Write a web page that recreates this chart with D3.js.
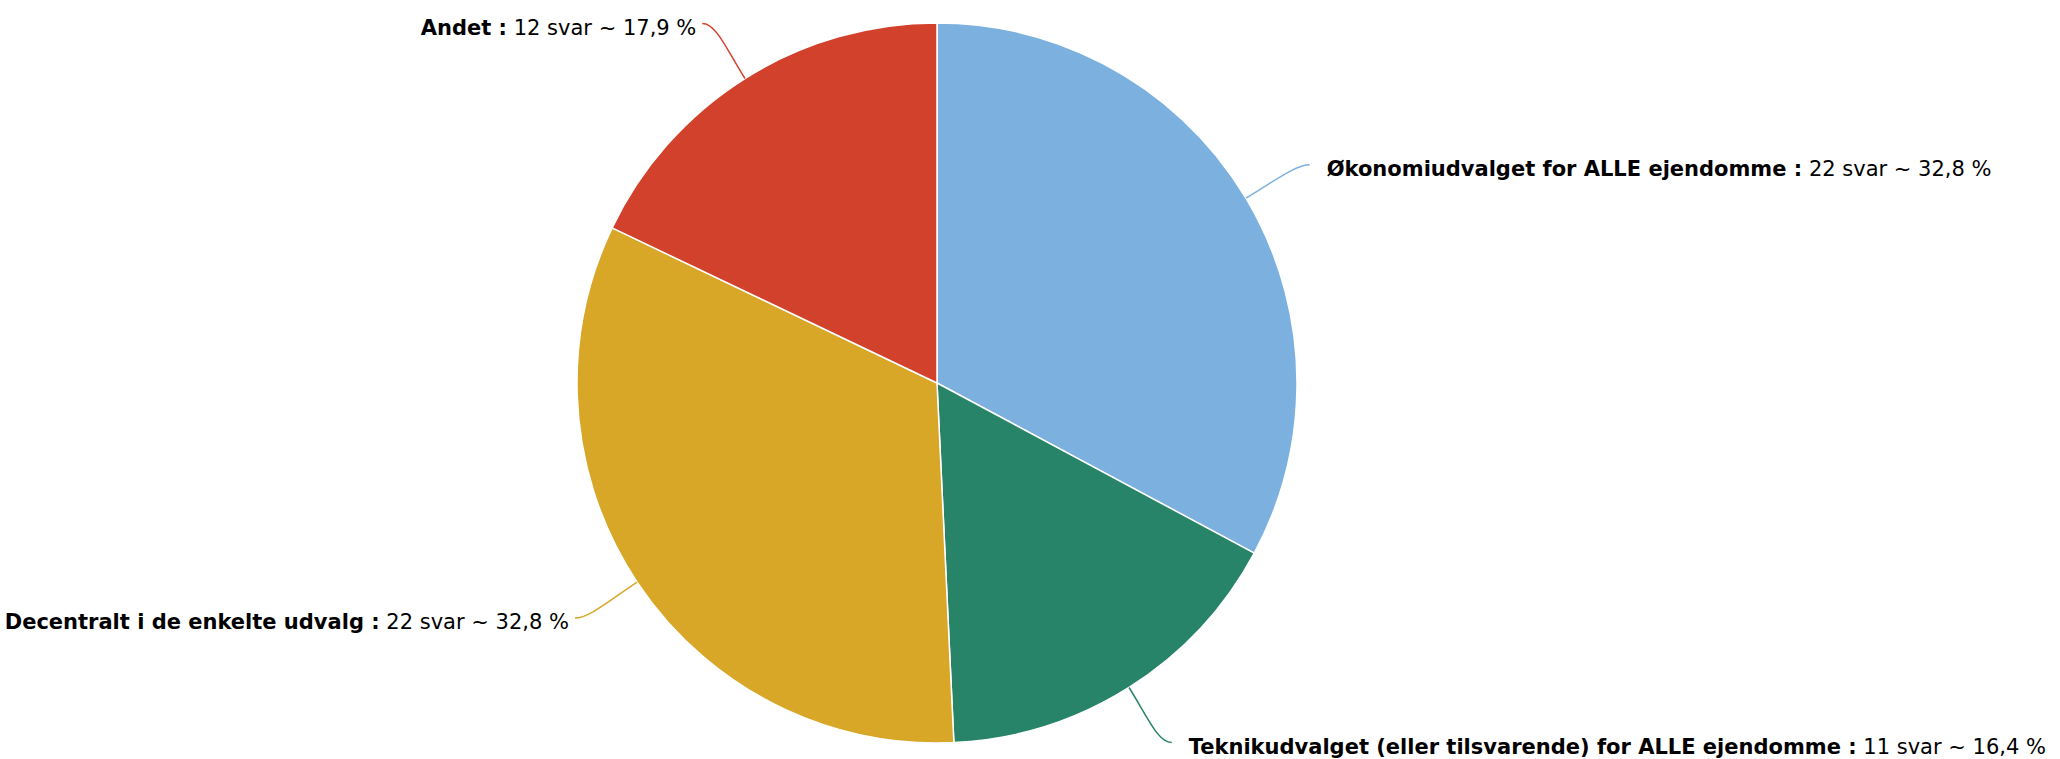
<!DOCTYPE html>
<html>
<head>
<meta charset="utf-8">
<script src="https://cdn.jsdelivr.net/npm/d3@7"></script>
<style>
  html, body { margin: 0; padding: 0; background: #fff; }
  text { font-family: "DejaVu Sans", sans-serif; }
</style>
</head>
<body>
<div id="chart"></div>
<script>
// Survey answers (svar) per option
const categories = [
    "Økonomiudvalget for ALLE ejendomme",
    "Teknikudvalget (eller tilsvarende) for ALLE ejendomme",
    "Decentralt i de enkelte udvalg",
    "Andet"
];
const answers = [22, 11, 22, 12];
const sliceColors = ["#7cb1df", "#288468", "#d8a727", "#d2412c"];

const width = 2060, height = 759;
const cx = 937, cy = 383, radius = 360;
const labelRadius = 425;

const svg = d3.select("#chart")
    .append("svg")
    .attr("width", width)
    .attr("height", height);

const total = d3.sum(answers);
const data = categories.map((c, i) => ({ name: c, value: answers[i], color: sliceColors[i] }));

const pie = d3.pie().sort(null).value(d => d.value);
const arc = d3.arc().innerRadius(0).outerRadius(radius);
const arcs = pie(data);

const g = svg.append("g").attr("transform", `translate(${cx},${cy})`);

g.selectAll("path.slice")
    .data(arcs)
    .join("path")
    .attr("class", "slice")
    .attr("d", arc)
    .attr("fill", d => d.data.color)
    .attr("stroke", "#fff")
    .attr("stroke-width", 1.5)
    .attr("stroke-linejoin", "round");

// connectors + labels
const fmt = v => (v * 100).toFixed(1).replace(".", ",");

arcs.forEach(d => {
    const a = (d.startAngle + d.endAngle) / 2;
    const sx = Math.sin(a), sy = -Math.cos(a);
    const right = sx >= 0;
    const side = right ? 1 : -1;
    const ex = sx * radius, ey = sy * radius;
    const lx = sx * labelRadius + side * 8, ly = sy * labelRadius;

    g.append("path")
        .attr("d", `M${ex},${ey} C${ex + sx * 35},${ey + sy * 35} ${lx - side * 14},${ly} ${lx},${ly}`)
        .attr("fill", "none")
        .attr("stroke", d.data.color)
        .attr("stroke-width", 1.5);

    const t = g.append("text")
        .attr("x", lx + (right ? 17 : -6))
        .attr("y", ly + 4)
        .attr("dy", "0.35em")
        .attr("text-anchor", right ? "start" : "end")
        .attr("font-size", 21)
        .attr("fill", "#000");
    t.append("tspan").attr("font-weight", "bold").text(d.data.name + " :");
    t.append("tspan").text(` ${d.data.value} svar ~ ${fmt(d.data.value / total)} %`);
});
</script>
</body>
</html>
